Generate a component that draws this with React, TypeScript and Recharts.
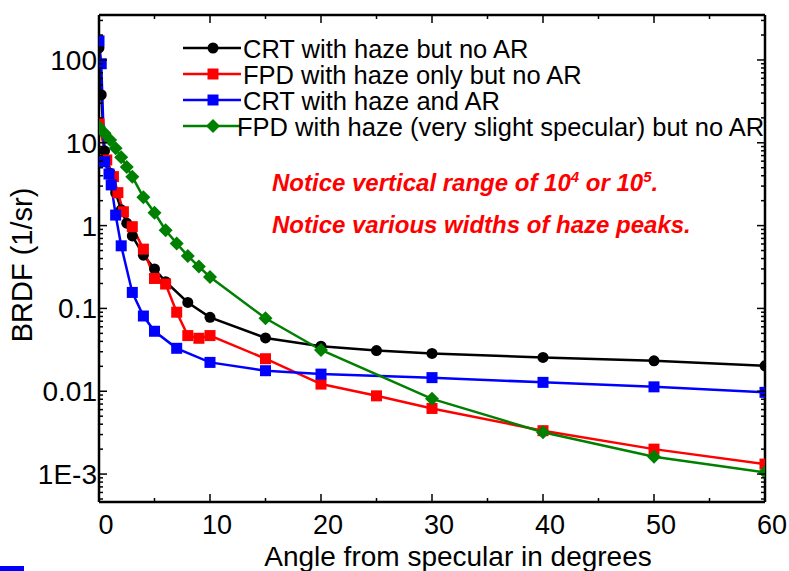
import React from 'react';
import { LineChart, Line, XAxis, YAxis, Legend } from 'recharts';

// angle from specular (deg) and BRDF (1/sr) for each sample
const crtNoArAngle = [0, 0.2, 0.5, 1, 1.5, 2, 2.5, 3, 4, 5, 6, 8, 10, 15, 20, 25, 30, 40, 50, 60];
const crtNoArBrdf = [140, 38, 8, 4.3, 2.5, 1.55, 1.07, 0.75, 0.44, 0.3, 0.21, 0.118, 0.078, 0.044, 0.035, 0.031, 0.0286, 0.0256, 0.0233, 0.0203];

const fpdNoArAngle = [0, 0.7, 1.3, 1.7, 2.2, 3, 4, 5, 6, 7, 8, 9, 10, 15, 20, 25, 30, 40, 50, 60];
const fpdNoArBrdf = [17, 6.2, 3.9, 2.5, 1.47, 0.97, 0.52, 0.23, 0.197, 0.09, 0.047, 0.0436, 0.047, 0.0247, 0.0122, 0.0088, 0.0062, 0.00334, 0.002, 0.00132];

const crtArAngle = [0, 0.2, 0.5, 0.9, 1.1, 1.5, 2, 3, 4, 5, 7, 10, 15, 20, 30, 40, 50, 60];
const crtArBrdf = [170, 90, 5.9, 4.2, 3.1, 1.34, 0.57, 0.156, 0.081, 0.053, 0.033, 0.0223, 0.0177, 0.0161, 0.0146, 0.0128, 0.0113, 0.0097];

const fpdSpecAngle = [0, 0.5, 1, 1.5, 2, 2.5, 3, 4, 5, 6, 7, 8, 9, 10, 15, 20, 30, 40, 50, 60];
const fpdSpecBrdf = [15.5, 13, 10.8, 8.6, 6.7, 5.1, 3.9, 2.2, 1.43, 0.88, 0.61, 0.43, 0.32, 0.24, 0.076, 0.0315, 0.0081, 0.0032, 0.00162, 0.00105];

const seriesNames = [
  'CRT with haze but no AR',
  'FPD with haze only but no AR',
  'CRT with haze and AR',
  'FPD with haze (very slight specular) but no AR',
];
const seriesColors = ['#000000', '#ff0000', '#0000ff', '#008000'];
const seriesShapes = ['circle', 'square', 'square', 'diamond'];

const xMajorTicks = [0, 10, 20, 30, 40, 50, 60];
const xMinorTicks = [5, 15, 25, 35, 45, 55];
const yMajorTicks = [0.001, 0.01, 0.1, 1, 10, 100];
const yTickLabels = ['1E-3', '0.01', '0.1', '1', '10', '100'];

const zip = (xs: number[], ys: number[]) => xs.map((x, i) => ({ x, y: ys[i] }));
const seriesData = [
  zip(crtNoArAngle, crtNoArBrdf),
  zip(fpdNoArAngle, fpdNoArBrdf),
  zip(crtArAngle, crtArBrdf),
  zip(fpdSpecAngle, fpdSpecBrdf),
];

const xTicks = [...xMajorTicks, ...xMinorTicks].sort((a, b) => a - b);
const yTicks: number[] = [];
[0.0001, ...yMajorTicks].forEach((d) => {
  for (let m = 1; m < 10; m++) {
    const v = +(d * m).toPrecision(3);
    if (v >= 0.00047 && v <= 340) yTicks.push(v);
  }
});

const Y_DOMAIN = [0.00046, 349];
const FONT = '"Liberation Sans", Arial, Helvetica, sans-serif';

const Marker = ({ cx, cy, shape, color }: any) => {
  if (cx == null || cy == null) return null;
  if (shape === 'circle') return <circle cx={cx} cy={cy} r={5.5} fill={color} />;
  if (shape === 'diamond')
    return <polygon points={`${cx},${cy - 7} ${cx + 7},${cy} ${cx},${cy + 7} ${cx - 7},${cy}`} fill={color} />;
  return <rect x={cx - 5.5} y={cy - 5.5} width={11} height={11} fill={color} />;
};

const isMajorY = (v: number) => yMajorTicks.some((t) => Math.abs(t - v) / t < 1e-6);

const LeftYTick = ({ x, y, payload }: any) => {
  const v = payload.value;
  const idx = yMajorTicks.findIndex((t) => Math.abs(t - v) / t < 1e-6);
  const len = idx >= 0 ? 8 : 4;
  return (
    <g>
      <line x1={x} y1={y} x2={x + len} y2={y} stroke="#000" strokeWidth={1.5} />
      {idx >= 0 && (
        <text x={x - 2} y={y + 10} textAnchor="end" fontSize={28} fill="#000" fontFamily={FONT}>
          {yTickLabels[idx]}
        </text>
      )}
    </g>
  );
};

const RightYTick = ({ x, y, payload }: any) => {
  const len = isMajorY(payload.value) ? 8 : 4;
  return <line x1={x} y1={y} x2={x - len} y2={y} stroke="#000" strokeWidth={1.5} />;
};

const BottomXTick = ({ x, y, payload }: any) => {
  const major = xMajorTicks.includes(payload.value);
  return (
    <g>
      <line x1={x} y1={y} x2={x} y2={y - (major ? 8 : 4)} stroke="#000" strokeWidth={1.5} />
      {major && (
        <text x={x + 7} y={y + 32} textAnchor="middle" fontSize={27} fill="#000" fontFamily={FONT}>
          {payload.value}
        </text>
      )}
    </g>
  );
};

const TopXTick = ({ x, y, payload }: any) => {
  const major = xMajorTicks.includes(payload.value);
  return <line x1={x} y1={y} x2={x} y2={y + (major ? 8 : 4)} stroke="#000" strokeWidth={1.5} />;
};

const renderLegend = () => (
  <svg width={600} height={110} style={{ overflow: 'visible' }}>
    {seriesNames.map((name, i) => {
      const cy = 14 + i * 26;
      return (
        <g key={name}>
          <line x1={3} y1={cy} x2={61} y2={cy} stroke={seriesColors[i]} strokeWidth={2.5} />
          <Marker cx={33} cy={cy} shape={seriesShapes[i]} color={seriesColors[i]} />
          <text x={i === 3 ? 57 : 63} y={cy + 10} fontSize={25.5} fill="#000" fontFamily={FONT}>
            {name}
          </text>
        </g>
      );
    })}
  </svg>
);

export default function App() {
  return (
    <div style={{ position: 'absolute', left: 0, top: 0, width: 789, height: 571, background: '#fff', fontFamily: FONT }}>
      <LineChart width={789} height={571} margin={{ top: 14, right: 23, bottom: 19, left: 8 }}>
        <XAxis
          xAxisId="bottom"
          type="number"
          dataKey="x"
          domain={[0, 60]}
          ticks={xTicks}
          interval={0}
          tickSize={0}
          tickMargin={0}
          height={50}
          allowDataOverflow
          axisLine={{ stroke: '#000', strokeWidth: 2.5 }}
          tick={<BottomXTick />}
          tickLine={false}
        />
        <XAxis
          xAxisId="top"
          orientation="top"
          type="number"
          dataKey="x"
          domain={[0, 60]}
          ticks={xTicks}
          interval={0}
          tickSize={0}
          tickMargin={0}
          height={1}
          allowDataOverflow
          axisLine={{ stroke: '#000', strokeWidth: 2.5 }}
          tick={<TopXTick />}
          tickLine={false}
        />
        <YAxis
          yAxisId="left"
          type="number"
          scale="log"
          domain={Y_DOMAIN}
          ticks={yTicks}
          interval={0}
          tickSize={0}
          tickMargin={0}
          width={91}
          allowDataOverflow
          axisLine={{ stroke: '#000', strokeWidth: 2.5 }}
          tick={<LeftYTick />}
          tickLine={false}
        />
        <YAxis
          yAxisId="right"
          orientation="right"
          type="number"
          scale="log"
          domain={Y_DOMAIN}
          ticks={yTicks}
          interval={0}
          tickSize={0}
          tickMargin={0}
          width={1}
          allowDataOverflow
          axisLine={{ stroke: '#000', strokeWidth: 2.5 }}
          tick={<RightYTick />}
          tickLine={false}
        />
        <Legend
          layout="vertical"
          align="center"
          verticalAlign="middle"
          wrapperStyle={{ position: 'absolute', left: 180, top: 34, width: 600, height: 110 }}
          content={renderLegend}
        />
        {seriesData.map((data, i) => (
          <Line
            key={seriesNames[i]}
            name={seriesNames[i]}
            data={data}
            dataKey="y"
            xAxisId="bottom"
            yAxisId="left"
            type="linear"
            stroke={seriesColors[i]}
            strokeWidth={2.5}
            dot={(p: any) => <Marker key={`${i}-${p.index}`} cx={p.cx} cy={p.cy} shape={seriesShapes[i]} color={seriesColors[i]} />}
            activeDot={false}
            isAnimationActive={false}
          />
        ))}
        {/* invisible series so the frame axes (top / right) get drawn */}
        <Line
          data={seriesData[3]}
          dataKey="y"
          xAxisId="top"
          yAxisId="right"
          stroke="none"
          dot={false}
          activeDot={false}
          legendType="none"
          isAnimationActive={false}
        />
      </LineChart>
      <svg width={789} height={571} style={{ position: 'absolute', left: 0, top: 0, pointerEvents: 'none' }}>
        <text
          transform="translate(22,265) rotate(-90)"
          textAnchor="middle"
          dominantBaseline="central"
          fontSize={29}
          fill="#000"
          fontFamily={FONT}
        >
          BRDF (1/sr)
        </text>
        <text x={458} y={565.5} textAnchor="middle" fontSize={28} fill="#000" fontFamily={FONT}>
          Angle from specular in degrees
        </text>
        <g fill="#ff0000" fontWeight="bold" fontStyle="italic" fontSize={24} fontFamily={FONT}>
          <text x={272} y={191}>
            Notice vertical range of 10<tspan dy={-9} fontSize={15}>4</tspan>
            <tspan dy={9}> or 10</tspan>
            <tspan dy={-9} fontSize={15}>5</tspan>
            <tspan dy={9}>.</tspan>
          </text>
          <text x={272} y={233}>Notice various widths of haze peaks.</text>
        </g>
      </svg>
      <div style={{ position: 'absolute', left: 0, top: 566, width: 24, height: 5, background: '#0000ff' }} />
    </div>
  );
}
